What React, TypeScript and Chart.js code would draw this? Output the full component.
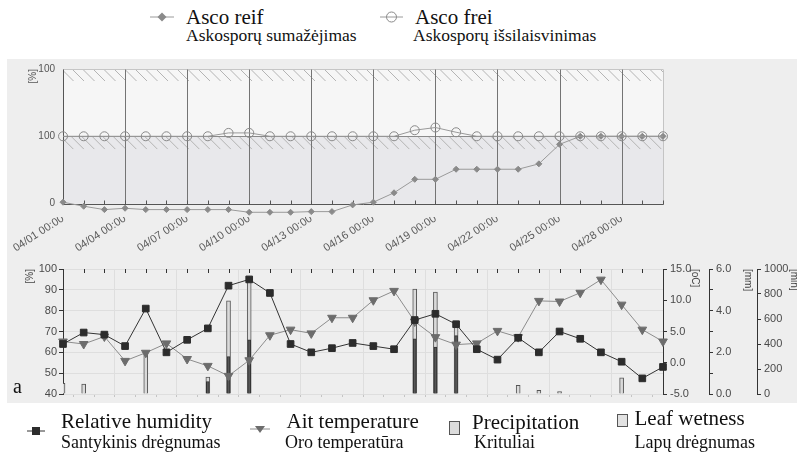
import React, { useEffect, useRef } from 'react';
import { Chart, registerables } from 'chart.js';

Chart.register(...registerables);

// ---------- data ----------
const dayLabels = [
  '04/01 00:00', '04/02 00:00', '04/03 00:00', '04/04 00:00', '04/05 00:00',
  '04/06 00:00', '04/07 00:00', '04/08 00:00', '04/09 00:00', '04/10 00:00',
  '04/11 00:00', '04/12 00:00', '04/13 00:00', '04/14 00:00', '04/15 00:00',
  '04/16 00:00', '04/17 00:00', '04/18 00:00', '04/19 00:00', '04/20 00:00',
  '04/21 00:00', '04/22 00:00', '04/23 00:00', '04/24 00:00', '04/25 00:00',
  '04/26 00:00', '04/27 00:00', '04/28 00:00', '04/29 00:00', '04/30 00:00',
];

// top panel (percent scale 0..200, labelled 0 / 100 / 100)
const ascoReif = [2, -4, -9, -7, -9, -9, -9, -9, -9, -13, -13, -13, -12, -12, -2, 2, 16, 36, 36, 51, 51, 51, 51, 59, 88, 100, 100, 100, 100, 100];
const ascoFrei = [100, 100, 100, 100, 100, 100, 100, 100, 105, 105, 100, 100, 100, 100, 100, 100, 100, 109, 113, 106, 100, 100, 100, 100, 100, 100, 100, 100, 100, 100];
const topTickValues = [0, 100, 200];
const topTickLabels = ['0', '100', '100'];

// bottom panel
const humidity = [64, 69.5, 68.5, 63, 81, 60, 66, 71.5, 92, 95, 88.5, 64, 60, 62, 64.5, 63, 61.5, 75.5, 78.5, 73.5, 61.5, 56.5, 67, 60, 70, 66.5, 60, 55.5, 47.5, 53];
const temperature = [3.4, 3.0, 4.2, 0.3, 1.6, 3.1, 0.6, -0.5, -2.1, 0.4, 4.4, 5.3, 4.7, 7.2, 7.2, 10.0, 11.5, 6.6, 4.1, 2.9, 3.1, 5.1, 4.1, 9.9, 9.8, 11.2, 13.3, 9.3, 5.3, 3.4];
const precipitation = [0, 0, 0, 0, 0, 0, 0, 0.6, 1.8, 2.6, 0, 0, 0, 0, 0, 0, 0, 2.65, 2.25, 2.8, 0, 0, 0, 0, 0, 0, 0, 0, 0, 0];
const leafWetness = [85, 80, 0, 0, 320, 0, 0, 135, 745, 935, 0, 0, 0, 0, 0, 0, 0, 840, 815, 550, 0, 0, 70, 30, 20, 0, 0, 130, 0, 0];

const SANS = "'Liberation Sans', Arial, sans-serif";
const SERIF = "'Liberation Serif', 'Times New Roman', serif";
const TICK = '#4a4a4a';
const NONE = 'rgba(0,0,0,0)';

// ---------- plugins ----------
const topPanelPlugin = {
  id: 'topPanel',
  beforeDraw(chart: any) {
    const { ctx, chartArea: a, scales } = chart;
    const y = scales.y;
    const yTop = y.getPixelForValue(200);
    const yMid = y.getPixelForValue(100);
    const yBot = y.getPixelForValue(0);
    const w = a.right - a.left;
    ctx.save();
    ctx.fillStyle = '#f6f6f6';
    ctx.fillRect(a.left, yTop, w, yMid - yTop);
    ctx.fillStyle = '#e8e8eb';
    ctx.fillRect(a.left, yMid, w, yBot - yMid);
    const strip = (y0: number, h: number) => {
      ctx.save();
      ctx.beginPath();
      ctx.rect(a.left, y0, w, h);
      ctx.clip();
      ctx.strokeStyle = '#b4b4b4';
      ctx.lineWidth = 1;
      ctx.beginPath();
      for (let x = a.left - h; x < a.right + h; x += 10.5) {
        ctx.moveTo(x, y0);
        ctx.lineTo(x + h, y0 + h);
      }
      ctx.stroke();
      ctx.restore();
    };
    strip(yTop, 12);
    strip(yMid, 13);
    ctx.restore();
  },
  beforeDatasetsDraw(chart: any) {
    const { ctx, chartArea: a, scales } = chart;
    const x = scales.x;
    const y = scales.y;
    const yTop = Math.round(y.getPixelForValue(200)) + 0.5;
    const yBot = Math.round(y.getPixelForValue(0)) + 0.5;
    ctx.save();
    ctx.lineWidth = 1;
    // vertical grid lines every third day
    ctx.strokeStyle = '#747474';
    ctx.beginPath();
    for (let i = 3; i < x.ticks.length; i += 3) {
      const px = Math.round(x.getPixelForTick(i)) + 0.5;
      ctx.moveTo(px, yTop);
      ctx.lineTo(px, yBot);
    }
    ctx.stroke();
    // right border
    ctx.strokeStyle = '#c4c4c4';
    ctx.beginPath();
    ctx.moveTo(Math.round(a.right) + 0.5, yTop);
    ctx.lineTo(Math.round(a.right) + 0.5, yBot);
    ctx.stroke();
    // axes lines and day ticks
    ctx.strokeStyle = '#555';
    ctx.beginPath();
    const lx = Math.round(a.left) + 0.5;
    ctx.moveTo(lx, yTop);
    ctx.lineTo(lx, yBot);
    ctx.lineTo(Math.round(a.right) + 0.5, yBot);
    for (let i = 0; i < x.ticks.length; i++) {
      const px = Math.round(x.getPixelForTick(i)) + 0.5;
      ctx.moveTo(px, yBot);
      ctx.lineTo(px, yBot - 4);
    }
    ctx.stroke();
    ctx.restore();
  },
};

const bottomPanelPlugin = {
  id: 'bottomPanel',
  beforeDatasetsDraw(chart: any) {
    const { ctx, chartArea: a, scales } = chart;
    const x = scales.x;
    ctx.save();
    ctx.strokeStyle = '#333';
    ctx.lineWidth = 1;
    ctx.beginPath();
    for (let i = 0; i < x.ticks.length; i++) {
      const px = Math.round(x.getPixelForTick(i)) + 0.5;
      ctx.moveTo(px, a.top);
      ctx.lineTo(px, a.top + 4);
    }
    ctx.stroke();
    ctx.restore();
  },
};

// ---------- charts ----------
function TopChart() {
  const ref = useRef<HTMLCanvasElement | null>(null);
  useEffect(() => {
    if (!ref.current) return;
    const chart = new Chart(ref.current, {
      type: 'line',
      data: {
        labels: dayLabels,
        datasets: [
          {
            label: 'Asco frei',
            data: ascoFrei,
            borderColor: '#9a9a9a',
            borderWidth: 1,
            pointStyle: 'circle',
            pointRadius: 4.5,
            pointBackgroundColor: NONE,
            pointBorderColor: '#8a8a8a',
            pointBorderWidth: 1,
            clip: false as any,
            tension: 0,
          },
          {
            label: 'Asco reif',
            data: ascoReif,
            borderColor: '#9a9a9a',
            borderWidth: 1,
            pointStyle: 'rectRot',
            pointRadius: 3,
            pointBackgroundColor: '#8a8a8a',
            pointBorderColor: '#8a8a8a',
            clip: false as any,
            tension: 0,
          },
        ],
      },
      options: {
        animation: false,
        responsive: false,
        maintainAspectRatio: false,
        events: [],
        layout: { padding: { top: 8, right: 134, left: 0, bottom: 0 } },
        plugins: { legend: { display: false }, tooltip: { enabled: false } },
        scales: {
          x: {
            type: 'category',
            offset: false,
            grid: { display: false, drawTicks: false },
            border: { display: false },
            ticks: {
              autoSkip: false,
              maxRotation: 33,
              minRotation: 33,
              padding: -5,
              color: '#5a5a5a',
              font: { size: 11, family: SANS },
              callback: (_v: any, i: number) => (i % 3 === 0 ? dayLabels[i] : ''),
            },
            afterFit: (s: any) => { s.height = 38; },
          },
          y: {
            min: -20,
            max: 200,
            afterBuildTicks: (s: any) => { s.ticks = topTickValues.map((v) => ({ value: v })); },
            ticks: {
              padding: 8,
              color: '#555',
              font: { size: 10, family: SANS },
              callback: (v: any) => topTickLabels[topTickValues.indexOf(Number(v))],
            },
            grid: {
              color: (c: any) => (c.tick && c.tick.value === 100 ? '#8a8a8a' : c.tick && c.tick.value === 200 ? '#c6c6c6' : NONE),
              drawTicks: false,
            },
            border: { display: false },
            title: {
              display: true,
              text: '[%]',
              align: 'end',
              color: '#555',
              font: { size: 10, family: SANS },
              padding: { top: 27, bottom: 0 },
            },
            afterFit: (s: any) => { s.width = 63; },
          },
        },
      } as any,
      plugins: [topPanelPlugin],
    });
    return () => chart.destroy();
  }, []);
  return <canvas ref={ref} width={797} height={200} style={{ position: 'absolute', left: 0, top: 55, width: 797, height: 200 }} />;
}

function BottomChart() {
  const ref = useRef<HTMLCanvasElement | null>(null);
  useEffect(() => {
    if (!ref.current) return;
    const rightAxis = (min: number, max: number, step: number, fmt: (v: number) => string, title: string, width: number, pad: number, weight: number) => ({
      position: 'right',
      min,
      max,
      weight,
      ticks: { stepSize: step, padding: 3, color: TICK, font: { size: 11, family: SANS }, callback: (v: any) => fmt(Number(v)) },
      grid: { drawOnChartArea: false, tickLength: 4, color: '#333', tickColor: '#333' },
      border: { color: '#333' },
      title: { display: true, text: title, align: 'end', color: '#444', font: { size: 10, family: SANS }, padding: { top: pad, bottom: 0 } },
      afterFit: (s: any) => { s.width = width; },
    });
    const chart = new Chart(ref.current, {
      type: 'bar',
      data: {
        labels: dayLabels,
        datasets: [
          {
            type: 'line',
            label: 'Relative humidity',
            data: humidity,
            yAxisID: 'y',
            borderColor: '#333',
            borderWidth: 1,
            pointStyle: 'rect',
            pointRadius: 4.7,
            pointBackgroundColor: '#2c2c2c',
            pointBorderColor: '#2c2c2c',
            clip: false as any,
            order: 1,
          },
          {
            type: 'line',
            label: 'Ait temperature',
            data: temperature,
            yAxisID: 'yT',
            borderColor: '#8c8c8c',
            borderWidth: 1,
            pointStyle: 'triangle',
            pointRotation: 180,
            pointRadius: 5,
            pointBackgroundColor: '#6c6c6c',
            pointBorderColor: '#6c6c6c',
            clip: false as any,
            order: 2,
          },
          {
            type: 'bar',
            label: 'Precipitation',
            data: precipitation.map((v) => (v > 0 ? v : null)),
            yAxisID: 'yP',
            backgroundColor: '#565656',
            borderColor: '#333',
            borderWidth: 1,
            barThickness: 3,
            grouped: false,
            order: 3,
          },
          {
            type: 'bar',
            label: 'Leaf wetness',
            data: leafWetness.map((v) => (v > 0 ? v : null)),
            yAxisID: 'yL',
            backgroundColor: '#dadada',
            borderColor: '#555',
            borderWidth: 1,
            barThickness: 4,
            grouped: false,
            order: 4,
          },
        ],
      } as any,
      options: {
        animation: false,
        responsive: false,
        maintainAspectRatio: false,
        events: [],
        layout: { padding: { top: 14, right: 0, left: 0, bottom: 0 } },
        plugins: { legend: { display: false }, tooltip: { enabled: false } },
        scales: {
          x: {
            type: 'category',
            offset: false,
            grid: {
              color: (c: any) => (c.index % 3 === 0 ? '#dedede' : NONE),
              tickColor: '#c4c4c4',
              tickLength: 3,
            },
            border: { display: false },
            ticks: { display: false, autoSkip: false },
            afterFit: (s: any) => { s.height = 11; },
          },
          y: {
            position: 'left',
            min: 40,
            max: 100,
            ticks: {
              stepSize: 5,
              padding: 2,
              color: TICK,
              font: { size: 11, family: SANS },
              callback: (v: any) => (Number(v) % 10 === 0 ? String(v) : ''),
            },
            grid: {
              color: (c: any) => (c.tick && c.tick.value % 10 === 0 ? '#dedede' : NONE),
              tickColor: '#333',
              tickLength: 4,
            },
            border: { color: '#333' },
            title: {
              display: true,
              text: '[%]',
              align: 'end',
              color: '#444',
              font: { size: 10, family: SANS },
              padding: { top: 24, bottom: 0 },
            },
            afterFit: (s: any) => { s.width = 63; },
          },
          yT: rightAxis(-5, 15, 2.5, (v) => (v % 5 === 0 ? v.toFixed(1) : ''), '[oC]', 46, 8, 1),
          yP: rightAxis(0, 6, 1, (v) => (v % 2 === 0 ? v.toFixed(1) : ''), '[mm]', 48, 3, 2),
          yL: rightAxis(0, 1000, 100, (v) => (v % 200 === 0 ? String(v) : ''), '[min]', 40, -3, 3),
        },
      } as any,
      plugins: [bottomPanelPlugin],
    });
    return () => chart.destroy();
  }, []);
  return <canvas ref={ref} width={797} height={150} style={{ position: 'absolute', left: 0, top: 255, width: 797, height: 150 }} />;
}

// ---------- legend helpers ----------
function Txt(props: { x: number; y: number; size: number; children: React.ReactNode }) {
  return (
    <div
      style={{
        position: 'absolute',
        left: props.x,
        top: props.y,
        fontFamily: SERIF,
        fontSize: props.size,
        lineHeight: `${props.size}px`,
        whiteSpace: 'nowrap',
        color: '#111',
      }}
    >
      {props.children}
    </div>
  );
}

export default function App() {
  return (
    <div style={{ position: 'absolute', left: 0, top: 0, width: 797, height: 452, overflow: 'hidden', background: '#ffffff' }}>
      {/* grey panel behind both charts */}
      <div style={{ position: 'absolute', left: 7, top: 59, width: 790, height: 344, background: '#eeeeee' }} />

      {/* top legend */}
      <svg style={{ position: 'absolute', left: 148, top: 10 }} width={28} height={14}>
        <line x1={2} y1={7} x2={26} y2={7} stroke="#9a9a9a" strokeWidth={1} />
        <polygon points="14,2.5 18.5,7 14,11.5 9.5,7" fill="#8a8a8a" />
      </svg>
      <Txt x={186} y={6.5} size={21}>Asco reif</Txt>
      <Txt x={186} y={27} size={17.5}>Askosporų sumažėjimas</Txt>
      <svg style={{ position: 'absolute', left: 378, top: 10 }} width={28} height={14}>
        <line x1={2} y1={7} x2={25} y2={7} stroke="#9a9a9a" strokeWidth={1} />
        <circle cx={13.5} cy={7} r={5} fill="#ffffff" stroke="#8a8a8a" strokeWidth={1} />
        <line x1={8.5} y1={7} x2={18.5} y2={7} stroke="#9a9a9a" strokeWidth={1} />
      </svg>
      <Txt x={415} y={6.5} size={21}>Asco frei</Txt>
      <Txt x={413} y={27} size={17.5}>Askosporų išsilaisvinimas</Txt>

      <TopChart />
      <BottomChart />

      <Txt x={13} y={376} size={20}>a</Txt>

      {/* bottom legend */}
      <svg style={{ position: 'absolute', left: 26, top: 424 }} width={20} height={14}>
        <line x1={1} y1={7} x2={19} y2={7} stroke="#333" strokeWidth={1} />
        <rect x={6} y={3} width={8} height={8} fill="#2c2c2c" />
      </svg>
      <Txt x={61} y={410.5} size={21}>Relative humidity</Txt>
      <Txt x={61} y={433} size={18}>Santykinis drėgnumas</Txt>
      <svg style={{ position: 'absolute', left: 249, top: 423 }} width={22} height={14}>
        <line x1={1} y1={6} x2={21} y2={6} stroke="#8c8c8c" strokeWidth={1} />
        <polygon points="6,3 16,3 11,10" fill="#6c6c6c" />
      </svg>
      <Txt x={286.5} y={410.5} size={21}>Ait temperature</Txt>
      <Txt x={285} y={433} size={18}>Oro temperatūra</Txt>
      <div style={{ position: 'absolute', left: 449, top: 421, width: 9, height: 12, background: '#dcdcdc', border: '1px solid #555' }} />
      <Txt x={472} y={412} size={21}>Precipitation</Txt>
      <Txt x={474} y={433} size={18}>Krituliai</Txt>
      <div style={{ position: 'absolute', left: 617, top: 414, width: 9, height: 11, background: '#e2e2e2', border: '1px solid #555' }} />
      <Txt x={634.5} y={407.5} size={21}>Leaf wetness</Txt>
      <Txt x={634.5} y={433} size={18}>Lapų drėgnumas</Txt>
    </div>
  );
}
